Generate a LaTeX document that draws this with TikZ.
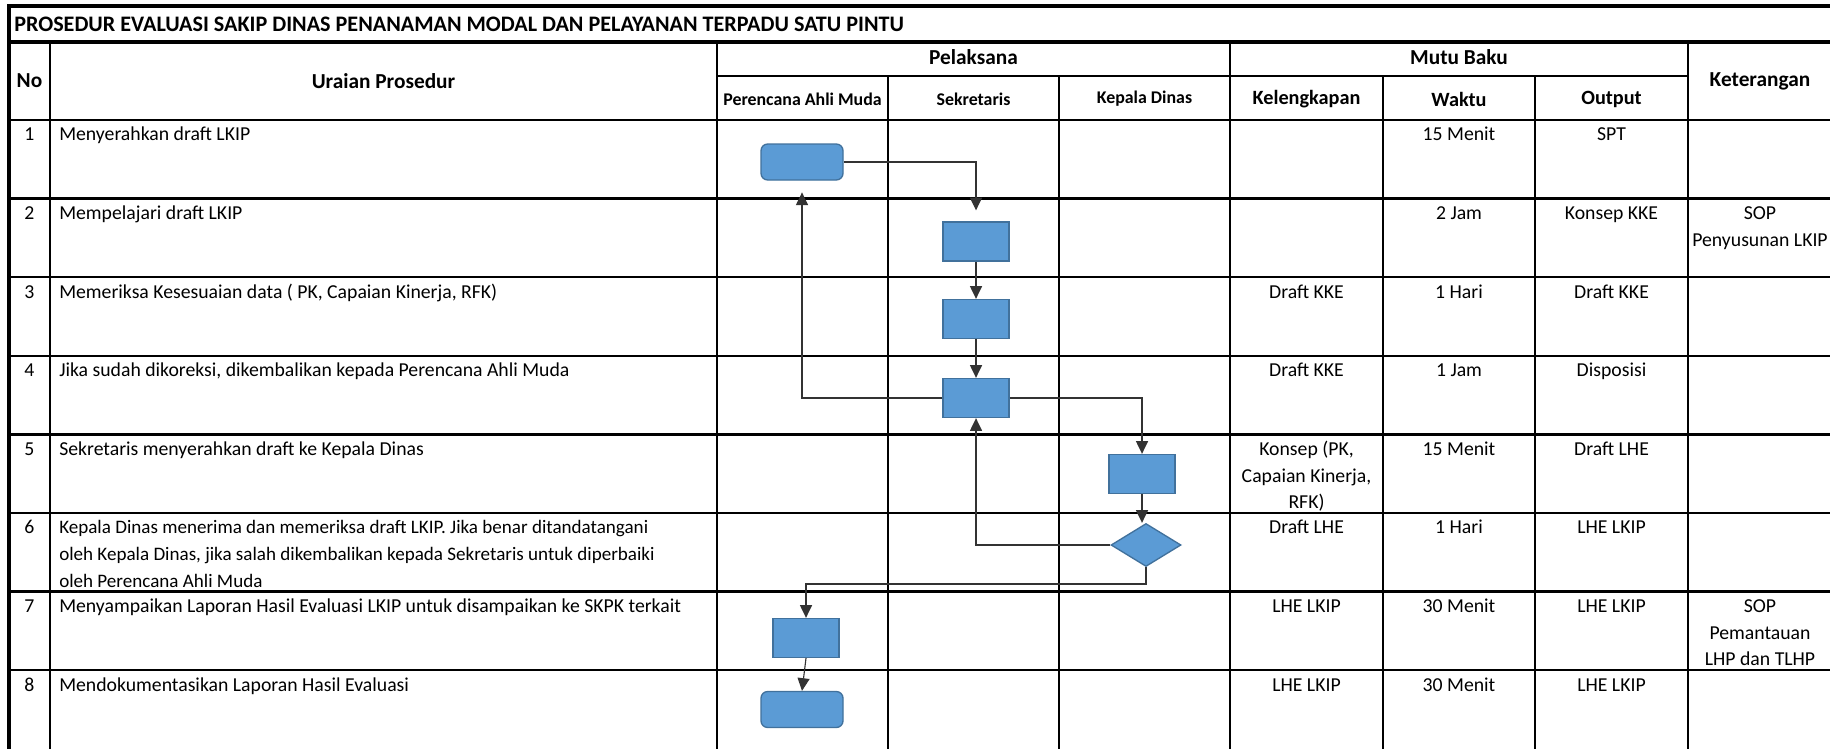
\documentclass[tikz,border=0pt]{standalone}
\usepackage{fontspec}
\setmainfont{Carlito}
\usetikzlibrary{shapes.geometric,arrows.meta}
\definecolor{boxfill}{HTML}{5B9BD5}
\definecolor{boxdraw}{HTML}{41719C}
\tikzset{
  gridline/.style={line width=1.9pt, line cap=rect},
  outerline/.style={line width=3pt, line cap=rect},
  proc/.style={draw=boxdraw, fill=boxfill, line width=1pt, minimum width=49.5pt, minimum height=29.25pt, inner sep=0pt},
  term/.style={proc, rounded corners=5pt, minimum width=61.5pt, minimum height=27pt},
  dec/.style={diamond, draw=boxdraw, fill=boxfill, line width=1pt, minimum width=52.5pt, minimum height=32.25pt, inner sep=0pt},
  conn/.style={line width=0.85pt, draw=black!80},
  arr/.style={conn, -{Triangle[length=9.5pt,width=9pt]}},
  body/.style={font=\fontsize{14.8}{20}\selectfont, inner sep=0pt, anchor=north west, align=left},
  cell/.style={font=\fontsize{14.8}{20}\selectfont, inner sep=0pt, anchor=north, align=center},
  hdr/.style={font=\fontsize{16}{19}\selectfont\bfseries, inner sep=0pt, anchor=center, align=center},
  midhdr/.style={font=\fontsize{15.2}{18}\selectfont\bfseries, inner sep=0pt, anchor=center, align=center},
  subhdr/.style={font=\fontsize{13.4}{16}\selectfont\bfseries, inner sep=0pt, anchor=center, align=center},
}
\begin{document}
\begin{tikzpicture}[x=0.75pt, y=-0.75pt]
\useasboundingbox (0,0) rectangle (1830,749);
\fill[white] (0,0) rectangle (1830,749);
\clip (0,0) rectangle (1830,749);

% ---------- grid ----------
\foreach \yy in {120,198.6,277.2,355.8,434.4,513,591.6,670.2}
  \draw[gridline] (9,\yy) -- (1840,\yy);
\draw[gridline] (717,76) -- (1688,76);
\foreach \xx in {50,717,1230,1688}
  \draw[gridline] (\xx,42) -- (\xx,760);
\foreach \xx in {888,1059,1383,1535}
  \draw[gridline] (\xx,76) -- (\xx,760);
\draw[outerline] (9,6) -- (1840,6);
\draw[outerline] (9,42) -- (1840,42);
\draw[outerline] (9,6) -- (9,760);

% ---------- title and headers ----------
\node[hdr, anchor=west, font=\fontsize{16.6}{19}\selectfont\bfseries] (title) at (14,24) {PROSEDUR EVALUASI SAKIP DINAS PENANAMAN MODAL DAN PELAYANAN TERPADU SATU PINTU};
\node[hdr] (hNo) at (29.5,81) {No};
\node[hdr] (hUraian) at (383.5,81) {Uraian Prosedur};
\node[hdr] (hPel) at (973.5,57) {Pelaksana};
\node[hdr] (hMutu) at (1459,57) {Mutu Baku};
\node[hdr] (hKet) at (1760,81) {Keterangan};
\node[subhdr] (hPer) at (802.5,99) {Perencana Ahli Muda};
\node[subhdr] (hSek) at (973.5,99) {Sekretaris};
\node[subhdr] (hKep) at (1144.5,99) {Kepala Dinas};
\node[midhdr] (hKel) at (1306.5,99) {Kelengkapan};
\node[midhdr] (hWak) at (1459,99) {Waktu};
\node[midhdr] (hOut) at (1611.5,99) {Output};

% ---------- rows ----------
% row 1
\node[cell] (no1) at (29.5,122) {\strut 1};
\node[body] (u1) at (59,122) {\strut Menyerahkan draft LKIP};
\node[cell] (w1) at (1459,122) {\strut 15 Menit};
\node[cell] (o1) at (1611.5,122) {\strut SPT};
% row 2
\node[cell] (no2) at (29.5,200.6) {\strut 2};
\node[body] (u2) at (59,200.6) {\strut Mempelajari draft LKIP};
\node[cell] (w2) at (1459,200.6) {\strut 2 Jam};
\node[cell] (o2) at (1611.5,200.6) {\strut Konsep KKE};
\node[cell] (k2) at (1760,200.6) {\strut SOP\\Penyusunan LKIP};
% row 3
\node[cell] (no3) at (29.5,279.2) {\strut 3};
\node[body] (u3) at (59,279.2) {\strut Memeriksa Kesesuaian data ( PK, Capaian Kinerja, RFK)};
\node[cell] (l3) at (1306.5,279.2) {\strut Draft KKE};
\node[cell] (w3) at (1459,279.2) {\strut 1 Hari};
\node[cell] (o3) at (1611.5,279.2) {\strut Draft KKE};
% row 4
\node[cell] (no4) at (29.5,357.8) {\strut 4};
\node[body] (u4) at (59,357.8) {\strut Jika sudah dikoreksi, dikembalikan kepada Perencana Ahli Muda};
\node[cell] (l4) at (1306.5,357.8) {\strut Draft KKE};
\node[cell] (w4) at (1459,357.8) {\strut 1 Jam};
\node[cell] (o4) at (1611.5,357.8) {\strut Disposisi};
% row 5
\node[cell] (no5) at (29.5,436.4) {\strut 5};
\node[body] (u5) at (59,436.4) {\strut Sekretaris menyerahkan draft ke Kepala Dinas};
\node[cell] (l5) at (1306.5,436.4) {\strut Konsep (PK,\\Capaian Kinerja,\\RFK)};
\node[cell] (w5) at (1459,436.4) {\strut 15 Menit};
\node[cell] (o5) at (1611.5,436.4) {\strut Draft LHE};
% row 6
\node[cell] (no6) at (29.5,515) {\strut 6};
\node[body, font=\fontsize{14.3}{20}\selectfont] (u6) at (59,515) {\strut Kepala Dinas menerima dan memeriksa draft LKIP. Jika benar ditandatangani\\oleh Kepala Dinas, jika salah dikembalikan kepada Sekretaris untuk diperbaiki\\oleh Perencana Ahli Muda};
\node[cell] (l6) at (1306.5,515) {\strut Draft LHE};
\node[cell] (w6) at (1459,515) {\strut 1 Hari};
\node[cell] (o6) at (1611.5,515) {\strut LHE LKIP};
% row 7
\node[cell] (no7) at (29.5,593.6) {\strut 7};
\node[body] (u7) at (59,593.6) {\strut Menyampaikan Laporan Hasil Evaluasi LKIP untuk disampaikan ke SKPK terkait};
\node[cell] (l7) at (1306.5,593.6) {\strut LHE LKIP};
\node[cell] (w7) at (1459,593.6) {\strut 30 Menit};
\node[cell] (o7) at (1611.5,593.6) {\strut LHE LKIP};
\node[cell] (k7) at (1760,593.6) {\strut SOP\\Pemantauan\\LHP dan TLHP};
% row 8
\node[cell] (no8) at (29.5,672.2) {\strut 8};
\node[body] (u8) at (59,672.2) {\strut Mendokumentasikan Laporan Hasil Evaluasi};
\node[cell] (l8) at (1306.5,672.2) {\strut LHE LKIP};
\node[cell] (w8) at (1459,672.2) {\strut 30 Menit};
\node[cell] (o8) at (1611.5,672.2) {\strut LHE LKIP};

% ---------- flowchart shapes ----------
\node[term] (r1) at (802,162) {};
\node[proc] (b2) at (976,241.5) {};
\node[proc] (b3) at (976,319) {};
\node[proc] (b4) at (976,398) {};
\node[proc] (b5) at (1142,474) {};
\node[dec]  (d6) at (1146,545) {};
\node[proc] (b7) at (806,638) {};
\node[term] (r8) at (802,709.5) {};
\coordinate (j6) at (1146,584);

% ---------- connectors ----------
\draw[arr, shorten >=8.25pt] (r1.east) -| (b2.north);
\draw[arr] (b2.south) -- (b3.north);
\draw[arr] (b3.south) -- (b4.north);
\draw[arr, shorten >=8.8pt] (b4.west) -| (r1.south);
\draw[arr] (b4.east) -| (b5.north);
\draw[arr] (b5.south) -- (b5.south |- d6.north);
\draw[arr] (d6.west) -| (b4.south);
\draw[arr] (d6.south) -- (j6) -| (b7.north);
\draw[arr] (b7.south) -- (r8.north);
\end{tikzpicture}
\end{document}
